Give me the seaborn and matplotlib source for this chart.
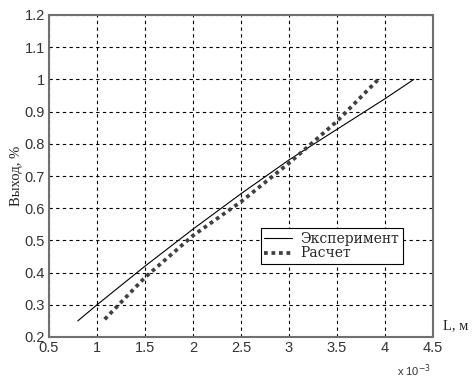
import matplotlib
matplotlib.use("Agg")
import matplotlib.pyplot as plt
import seaborn as sns
import pandas as pd

# data (L in units of 1e-3 m)
exp_L = [0.8, 1.0, 1.5, 2.0, 2.5, 3.0, 3.5, 4.0, 4.3]
exp_Y = [0.25, 0.30, 0.42, 0.535, 0.645, 0.75, 0.845, 0.94, 1.0]
calc_L = [1.08, 1.5, 2.0, 2.5, 3.0, 3.5, 3.93]
calc_Y = [0.255, 0.385, 0.515, 0.62, 0.74, 0.87, 1.0]
series_names = ["Эксперимент", "Расчет"]
x_ticks = [0.5, 1, 1.5, 2, 2.5, 3, 3.5, 4, 4.5]
y_ticks = [0.2, 0.3, 0.4, 0.5, 0.6, 0.7, 0.8, 0.9, 1.0, 1.1, 1.2]
y_tick_labels = ["0.2", "0.3", "0.4", "0.5", "0.6", "0.7", "0.8", "0.9", "1", "1.1", "1.2"]
x_tick_labels = ["0.5", "1", "1.5", "2", "2.5", "3", "3.5", "4", "4.5"]

sns.set_style("white")
plt.rcParams["font.family"] = ["Liberation Sans", "DejaVu Sans"]

df_exp = pd.DataFrame({"L": exp_L, "Y": exp_Y})
df_calc = pd.DataFrame({"L": calc_L, "Y": calc_Y})

fig = plt.figure(figsize=(4.76, 3.82), dpi=100)
ax = fig.add_axes([49 / 476, 45 / 382, 384 / 476, 322 / 382])

sns.lineplot(data=df_exp, x="L", y="Y", ax=ax, color="black", linewidth=0.8,
             label=series_names[0], sort=False)
sns.lineplot(data=df_calc, x="L", y="Y", ax=ax, color="#404040", linewidth=2.7,
             label=series_names[1], sort=False, dashes=False)
ax.lines[1].set_dashes((1, 1))
ax.lines[1].set_dash_capstyle("butt")

ax.set_xlim(0.5, 4.5)
ax.set_ylim(0.2, 1.2)
ax.set_xticks(x_ticks)
ax.set_xticklabels(x_tick_labels)
ax.set_yticks(y_ticks)
ax.set_yticklabels(y_tick_labels)
ax.tick_params(direction="in", length=4, labelsize=10.5, colors="#333333",
               labelcolor="#333333", pad=3)
ax.grid(True, color="black", linestyle=(0, (3, 3)), linewidth=0.8)
for s in ax.spines.values():
    s.set_color("#707070")
    s.set_linewidth(1.5)

ax.set_ylabel("Выход, %", family=["Liberation Serif"], fontsize=10.5, color="#222222")
ax.yaxis.set_label_coords(-0.068, 0.5)
ax.set_xlabel("L, м", family=["Liberation Serif"], fontsize=10.5, color="#222222")
ax.xaxis.set_label_coords(1.06, 0.055)
ax.text(0.95, -0.12, "x 10$^{-3}$", transform=ax.transAxes, ha="center",
        va="baseline", fontsize=8, color="#333333")

leg = ax.legend(loc="lower left", bbox_to_anchor=(0.552, 0.227),
                prop={"family": "DejaVu Serif", "size": 10},
                frameon=True, fancybox=False, framealpha=1, edgecolor="black",
                handlelength=2.0, handletextpad=0.6, borderpad=0.25,
                labelspacing=0.05, borderaxespad=0)
leg.get_frame().set_linewidth(0.8)

fig.savefig("out.png", dpi=100)
